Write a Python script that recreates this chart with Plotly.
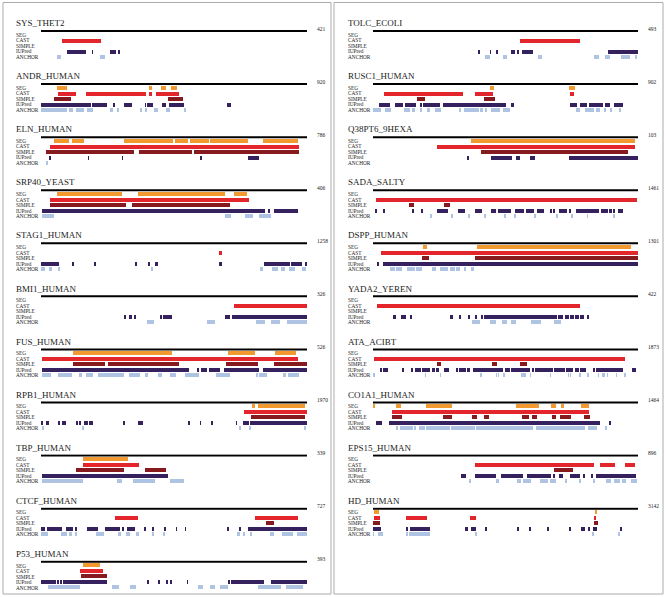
import plotly.graph_objects as go

W, H = 666, 597
TRACKS = ["SEG", "CAST", "SIMPLE", "IUPred", "ANCHOR"]
ROWS = {"SEG": 4, "CAST": 3, "SIMPLE": 2, "IUPred": 1, "ANCHOR": 0}
COLORS = {"SEG": "#F29A30", "CAST": "#E3262B", "SIMPLE": "#871A1E",
          "IUPred": "#36215F", "ANCHOR": "#AFC3E3"}

# ---------------- data (residue ranges) ----------------
SYS_THET2 = dict(name="SYS_THET2", length=421,
    SEG=[], CAST=[(34, 95)], SIMPLE=[],
    IUPred=[(42, 43), (45, 72), (81, 82), (109, 119), (122, 124)],
    ANCHOR=[(25, 32), (93, 102)])

ANDR_HUMAN = dict(name="ANDR_HUMAN", length=920,
    SEG=[(57, 89), (372, 383), (414, 432), (449, 470)],
    CAST=[(58, 121), (155, 362), (374, 383), (397, 478)],
    SIMPLE=[(46, 103), (440, 492)],
    IUPred=[(1, 172), (177, 227), (250, 254), (287, 314), (360, 362), (368, 389),
            (418, 432), (444, 487), (490, 495), (643, 657)],
    ANCHOR=[(1, 89), (97, 112), (121, 147), (158, 179), (239, 248), (264, 271),
            (343, 349), (358, 366), (392, 406), (432, 447), (495, 502)])

ELN_HUMAN = dict(name="ELN_HUMAN", length=786,
    SEG=[(37, 83), (91, 128), (244, 389), (396, 434), (441, 497), (500, 611), (655, 758)],
    CAST=[(27, 761)],
    SIMPLE=[(15, 275), (291, 447), (453, 761)],
    IUPred=[(26, 27), (140, 141), (241, 242), (470, 476), (611, 645)],
    ANCHOR=[(15, 18)])

SRP40_YEAST = dict(name="SRP40_YEAST", length=406,
    SEG=[(25, 124), (148, 281), (294, 314)],
    CAST=[(14, 317)],
    SIMPLE=[(14, 129), (139, 288)],
    IUPred=[(1, 342), (346, 350), (355, 392)],
    ANCHOR=[(1, 20), (281, 290), (312, 324), (333, 351)])

STAG1_HUMAN = dict(name="STAG1_HUMAN", length=1258,
    SEG=[], CAST=[(840, 857)], SIMPLE=[],
    IUPred=[(0, 87), (150, 156), (252, 256), (445, 453), (508, 511), (540, 552),
            (840, 855), (1053, 1179), (1182, 1234), (1250, 1255)],
    ANCHOR=[(0, 19), (39, 52), (82, 90), (524, 529), (1040, 1048), (1092, 1120),
            (1136, 1155), (1171, 1199), (1234, 1254)])

BMI1_HUMAN = dict(name="BMI1_HUMAN", length=326,
    SEG=[], CAST=[(237, 326)], SIMPLE=[],
    IUPred=[(102, 104), (108, 112), (114, 117), (146, 148), (150, 160), (226, 232), (234, 326)],
    ANCHOR=[(130, 138), (203, 213), (263, 275), (282, 293), (302, 326)])

FUS_HUMAN = dict(name="FUS_HUMAN", length=526,
    SEG=[(63, 260), (370, 424), (463, 505)],
    CAST=[(1, 508)],
    SIMPLE=[(63, 127), (133, 272), (366, 429), (461, 526)],
    IUPred=[(1, 292), (308, 313), (316, 329), (333, 354), (361, 432), (438, 526)],
    ANCHOR=[(1, 20), (33, 61), (75, 82), (89, 102), (112, 164), (174, 196), (205, 211),
            (231, 239), (256, 267), (285, 313), (347, 374), (427, 430), (432, 446),
            (479, 485), (488, 511)])

RPB1_HUMAN = dict(name="RPB1_HUMAN", length=1970,
    SEG=[(1562, 1587), (1607, 1953)],
    CAST=[(1500, 1970)],
    SIMPLE=[(1555, 1958)],
    IUPred=[(0, 12), (37, 62), (131, 141), (158, 183), (265, 272), (284, 297), (321, 351),
            (358, 363), (371, 381), (606, 623), (717, 759), (1093, 1098), (1179, 1184),
            (1266, 1273), (1446, 1451), (1495, 1537), (1550, 1970)],
    ANCHOR=[(12, 20), (306, 314), (1471, 1476), (1545, 1555), (1950, 1960)])

TBP_HUMAN = dict(name="TBP_HUMAN", length=339,
    SEG=[(54, 111)],
    CAST=[(53, 125)],
    SIMPLE=[(44, 106), (133, 159)],
    IUPred=[(1, 162)],
    ANCHOR=[(1, 53), (97, 103), (117, 145), (165, 182)])

CTCF_HUMAN = dict(name="CTCF_HUMAN", length=727,
    SEG=[], CAST=[(202, 264), (584, 702)],
    SIMPLE=[(615, 638)],
    IUPred=[(0, 12), (17, 57), (67, 73), (75, 87), (93, 96), (127, 155), (175, 216),
            (223, 227), (234, 257), (282, 286), (305, 309), (337, 339), (369, 371),
            (394, 396), (511, 514), (543, 545), (567, 727)],
    ANCHOR=[(0, 18), (54, 72), (79, 84), (95, 98), (150, 171), (213, 218), (231, 242),
            (262, 267), (306, 310), (335, 338), (537, 545), (553, 555), (572, 574),
            (627, 631), (634, 638), (659, 690), (700, 727)])

P53_HUMAN = dict(name="P53_HUMAN", length=393,
    SEG=[(62, 87)],
    CAST=[(58, 92)],
    SIMPLE=[(59, 97)],
    IUPred=[(0, 22), (25, 27), (29, 31), (33, 97), (156, 160), (174, 176), (186, 187),
            (192, 193), (216, 217), (277, 278), (281, 329), (341, 342), (343, 393)],
    ANCHOR=[(11, 58), (105, 115), (132, 141), (232, 239), (250, 257), (265, 277),
            (321, 354), (362, 387)])

TOLC_ECOLI = dict(name="TOLC_ECOLI", length=493,
    SEG=[], CAST=[(273, 385)], SIMPLE=[],
    IUPred=[(197, 198), (218, 219), (228, 233), (256, 260), (262, 265), (269, 272),
            (277, 298), (437, 493)],
    ANCHOR=[(209, 217), (242, 250), (307, 314), (412, 420), (432, 440), (462, 479), (487, 492)])

RUSC1_HUMAN = dict(name="RUSC1_HUMAN", length=902,
    SEG=[(397, 413), (666, 686)],
    CAST=[(36, 306), (346, 409), (672, 684)],
    SIMPLE=[(150, 176), (378, 414)],
    IUPred=[(19, 59), (75, 102), (110, 148), (162, 165), (170, 227), (238, 454),
            (469, 479), (669, 696), (704, 730), (735, 783), (789, 806), (819, 851)],
    ANCHOR=[(0, 28), (40, 62), (104, 127), (133, 143), (161, 166), (183, 193), (210, 233),
            (293, 298), (309, 360), (365, 374), (382, 389), (400, 431), (443, 468),
            (692, 706), (721, 752), (760, 772), (786, 794), (806, 813), (839, 843)])

Q38PT6_9HEXA = dict(name="Q38PT6_9HEXA", length=103,
    SEG=[(38, 102)],
    CAST=[(25, 102)],
    SIMPLE=[(42, 99)],
    IUPred=[(36.9, 37.3), (45.7, 54), (55.7, 57), (61, 62.9), (76, 103)],
    ANCHOR=[])

SADA_SALTY = dict(name="SADA_SALTY", length=1461,
    SEG=[], CAST=[(15, 1455)],
    SIMPLE=[(200, 226), (391, 423)],
    IUPred=[(15, 24), (55, 68), (215, 221), (267, 272), (353, 414), (469, 509), (564, 601),
            (649, 680), (689, 759), (781, 831), (845, 888), (906, 941), (978, 985),
            (992, 1005), (1023, 1070), (1084, 1094), (1121, 1244), (1255, 1296),
            (1305, 1315), (1324, 1333), (1352, 1378)],
    ANCHOR=[(316, 321), (433, 438), (525, 530), (617, 622), (726, 731), (779, 784),
            (893, 898), (1014, 1019), (1097, 1102), (1180, 1185), (1327, 1332)])

DSPP_HUMAN = dict(name="DSPP_HUMAN", length=1301,
    SEG=[(246, 267), (511, 1268)],
    CAST=[(38, 1301)],
    SIMPLE=[(241, 273), (502, 1301)],
    IUPred=[(21, 28), (49, 1301)],
    ANCHOR=[(82, 106), (114, 142), (167, 206), (213, 241), (288, 311), (327, 368),
            (376, 401), (409, 426), (447, 453), (480, 496)])

YADA2_YEREN = dict(name="YADA2_YEREN", length=422,
    SEG=[], CAST=[(7, 329)], SIMPLE=[],
    IUPred=[(33, 36), (45, 52), (60, 61), (123, 127), (138, 139), (152, 154), (164, 166),
            (172, 174), (177, 235), (236, 293), (295, 302), (306, 312), (314, 320),
            (322, 328), (329, 336), (341, 343)],
    ANCHOR=[(158, 170), (187, 196), (206, 214), (220, 227), (251, 267), (289, 300)])

ATA_ACIBT = dict(name="ATA_ACIBT", length=1873,
    SEG=[], CAST=[(7, 1779)],
    SIMPLE=[(452, 483), (841, 877), (1041, 1091)],
    IUPred=[(54, 64), (75, 85), (87, 106), (207, 217), (271, 283), (295, 342), (349, 400),
            (424, 436), (448, 467), (500, 535), (589, 596), (608, 655), (667, 688),
            (707, 919), (931, 966), (978, 1107), (1124, 1136), (1147, 1272), (1282, 1355),
            (1367, 1414), (1425, 1456), (1466, 1508), (1560, 1571), (1579, 1767),
            (1833, 1838), (1847, 1852)],
    ANCHOR=[(7, 11), (370, 374), (476, 480), (761, 765), (872, 876), (886, 890),
            (924, 928), (1051, 1055), (1065, 1069), (1077, 1081), (1112, 1116),
            (1251, 1255), (1379, 1383), (1393, 1397), (1461, 1465), (1518, 1522),
            (1593, 1597), (1623, 1627), (1635, 1639), (1654, 1658), (1718, 1722), (1781, 1785)])

CO1A1_HUMAN = dict(name="CO1A1_HUMAN", length=1464,
    SEG=[(4, 13), (125, 153), (295, 436), (792, 915), (983, 1009), (1037, 1055), (1147, 1191)],
    CAST=[(107, 1193)],
    SIMPLE=[(107, 162), (387, 435), (545, 575), (613, 639), (825, 860), (880, 906),
            (991, 1013), (1031, 1096), (1164, 1197)],
    IUPred=[(18, 37), (42, 46), (88, 1256), (1307, 1311)],
    ANCHOR=[(129, 134), (151, 221), (230, 239), (252, 285), (295, 424), (433, 562),
            (571, 884), (902, 1173), (1188, 1239), (1285, 1289)])

EPS15_HUMAN = dict(name="EPS15_HUMAN", length=896,
    SEG=[], CAST=[(346, 747), (766, 819), (851, 885)],
    SIMPLE=[(611, 676)],
    IUPred=[(299, 307), (310, 316), (344, 415), (434, 507), (522, 603), (607, 617),
            (629, 643), (667, 701), (712, 716), (736, 744), (755, 890)],
    ANCHOR=[(327, 330), (419, 425), (488, 502), (507, 533), (564, 592), (600, 620),
            (650, 656), (699, 704), (746, 750), (789, 806), (815, 834), (843, 857), (873, 893)])

HD_HUMAN = dict(name="HD_HUMAN", length=3142,
    SEG=[(12, 67), (2636, 2660)],
    CAST=[(12, 87), (395, 644), (1154, 1221), (2632, 2648)],
    SIMPLE=[(0, 87), (2620, 2668)],
    IUPred=[(0, 99), (395, 419), (435, 672), (1099, 1122), (1162, 1217), (1328, 1340),
            (1719, 1727), (1857, 1869), (2063, 2083), (2324, 2343), (2470, 2482),
            (2498, 2510), (2560, 2567), (2612, 2660), (2932, 2948)],
    ANCHOR=[(0, 8), (65, 75), (85, 95), (105, 115), (400, 410), (430, 670),
            (1215, 1225), (2600, 2610), (2910, 2920)])

LEFT = [SYS_THET2, ANDR_HUMAN, ELN_HUMAN, SRP40_YEAST, STAG1_HUMAN, BMI1_HUMAN,
        FUS_HUMAN, RPB1_HUMAN, TBP_HUMAN, CTCF_HUMAN, P53_HUMAN]
RIGHT = [TOLC_ECOLI, RUSC1_HUMAN, Q38PT6_9HEXA, SADA_SALTY, DSPP_HUMAN, YADA2_YEREN,
         ATA_ACIBT, CO1A1_HUMAN, EPS15_HUMAN, HD_HUMAN]

# ---------------- layout geometry ----------------
LINE_Y = 4.7
Y0, Y1 = -0.7, 4.95
PXU = 5.5
FIRST_LINE_PX = 31.0
STEP_PX = 53.07
COLS = [dict(x0=41, x1=307, label_x=14, len_x=315, panels=LEFT),
        dict(x0=373, x1=638, label_x=346, len_x=646, panels=RIGHT)]
SERIF = "Liberation Serif"

fig = go.Figure()
layout = dict(width=W, height=H, autosize=False, margin=dict(l=0, r=0, t=0, b=0),
              paper_bgcolor="white", plot_bgcolor="rgba(0,0,0,0)", showlegend=False,
              barmode="overlay", bargap=0)
annotations = []
shapes = []
k = 0
for col in COLS:
    for i, p in enumerate(col["panels"]):
        k += 1
        ax = "" if k == 1 else str(k)
        line_px = FIRST_LINE_PX + STEP_PX * i
        top_px = line_px - (Y1 - LINE_Y) * PXU
        bot_px = top_px + (Y1 - Y0) * PXU
        layout["xaxis" + ax] = dict(domain=[col["x0"] / W, col["x1"] / W], range=[0, p["length"]],
                                    visible=False, fixedrange=True, anchor="y" + ax)
        layout["yaxis" + ax] = dict(domain=[1 - bot_px / H, 1 - top_px / H], range=[Y0, Y1],
                                    visible=False, fixedrange=True, anchor="x" + ax)
        # protein backbone line
        fig.add_trace(go.Scatter(x=[0, p["length"]], y=[LINE_Y, LINE_Y], mode="lines",
                                 line=dict(color="black", width=2), hoverinfo="skip",
                                 xaxis="x" + ax, yaxis="y" + ax))
        for t in TRACKS:
            segs = p[t]
            if segs:
                fig.add_trace(go.Bar(orientation="h",
                                     base=[s for s, e in segs],
                                     x=[e - s for s, e in segs],
                                     y=[ROWS[t]] * len(segs), width=0.72,
                                     marker=dict(color=COLORS[t], line=dict(width=0)),
                                     xaxis="x" + ax, yaxis="y" + ax, name=t))
            annotations.append(dict(text=t, xref="paper", yref="y" + ax,
                                    x=col["label_x"] / W, y=ROWS[t], xanchor="left",
                                    yanchor="middle", showarrow=False,
                                    font=dict(family=SERIF, size=5.3, color="#222")))
        annotations.append(dict(text=p["name"], xref="paper", yref="paper",
                                x=col["label_x"] / W, y=1 - (line_px - 7.8) / H,
                                xanchor="left", yanchor="middle", showarrow=False,
                                font=dict(family=SERIF, size=9, color="#222")))
        annotations.append(dict(text=str(p["length"]), xref="paper", yref="paper",
                                x=col["len_x"] / W, y=1 - (line_px - 2.5) / H,
                                xanchor="left", yanchor="middle", showarrow=False,
                                font=dict(family=SERIF, size=5.5, color="#222")))

for x0, x1 in [(3, 331), (334, 663)]:
    shapes.append(dict(type="rect", xref="paper", yref="paper",
                       x0=x0 / W, x1=x1 / W, y0=1 - 594 / H, y1=1 - 2.5 / H,
                       line=dict(color="#ABABAB", width=1), fillcolor="rgba(0,0,0,0)"))

layout["annotations"] = annotations
layout["shapes"] = shapes
fig.update_layout(**layout)
fig.write_html("out.html", config={"displayModeBar": False},
               post_script="document.body.style.margin='0';document.body.style.overflow='hidden';")
